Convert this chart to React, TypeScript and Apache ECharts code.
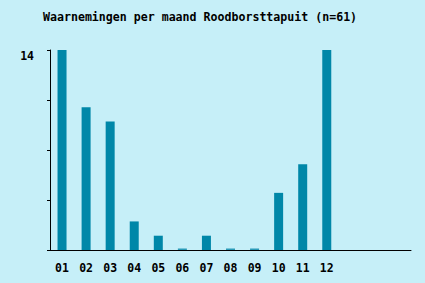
import React, { useEffect, useRef } from "react";
import * as echarts from "echarts";

const months = ["01", "02", "03", "04", "05", "06", "07", "08", "09", "10", "11", "12"];
const counts = [14, 10, 9, 2, 1, 0, 1, 0, 0, 4, 6, 14];
const extraSlots = ["", "", ""];
const yMax = 14;
const titleText = "Waarnemingen per maand Roodborsttapuit (n=61)";

export default function App() {
  const ref = useRef<HTMLDivElement>(null);
  useEffect(() => {
    if (!ref.current) return;
    const chart = echarts.init(ref.current, null, { renderer: "svg" });
    const font = "'DejaVu Sans Mono', monospace";
    chart.setOption({
      animation: false,
      backgroundColor: "#c6eff8",
      title: {
        text: titleText,
        left: 38,
        top: 6,
        textStyle: { fontFamily: font, fontSize: 11.6, fontWeight: "bold", color: "#000" },
      },
      grid: { left: 50, right: 14, top: 50, bottom: 33, containLabel: false },
      xAxis: {
        type: "category",
        data: [...months, ...extraSlots],
        axisLine: { lineStyle: { color: "#000", width: 1 } },
        axisTick: {
          alignWithLabel: true,
          length: 3,
          lineStyle: { color: "#000" },
          interval: (i: number) => i < months.length,
        },
        axisLabel: {
          interval: 0,
          margin: 12,
          color: "#000",
          fontFamily: font,
          fontWeight: "bold",
          fontSize: 11.5,
        },
      },
      yAxis: {
        type: "value",
        min: 0,
        max: yMax,
        interval: yMax / 4,
        splitLine: { show: false },
        axisLine: { show: true, lineStyle: { color: "#000", width: 1 } },
        axisTick: { show: true, length: 3, lineStyle: { color: "#000" } },
        axisLabel: {
          margin: 16,
          color: "#000",
          fontFamily: font,
          fontWeight: "bold",
          fontSize: 11.5,
          verticalAlign: "top",
          formatter: (v: number) => (v === yMax ? String(yMax) : ""),
        },
      },
      series: [
        {
          type: "bar",
          data: counts.map((v) => ({
            value: v,
            itemStyle: { color: v === 0 ? "#2a9ab8" : "#0087a8" },
          })),
          barWidth: 9,
          barMinHeight: 1.5,
        },
      ],
    });
    return () => chart.dispose();
  }, []);
  return <div ref={ref} style={{ width: 425, height: 283, position: "absolute", left: 0, top: 0 }} />;
}
